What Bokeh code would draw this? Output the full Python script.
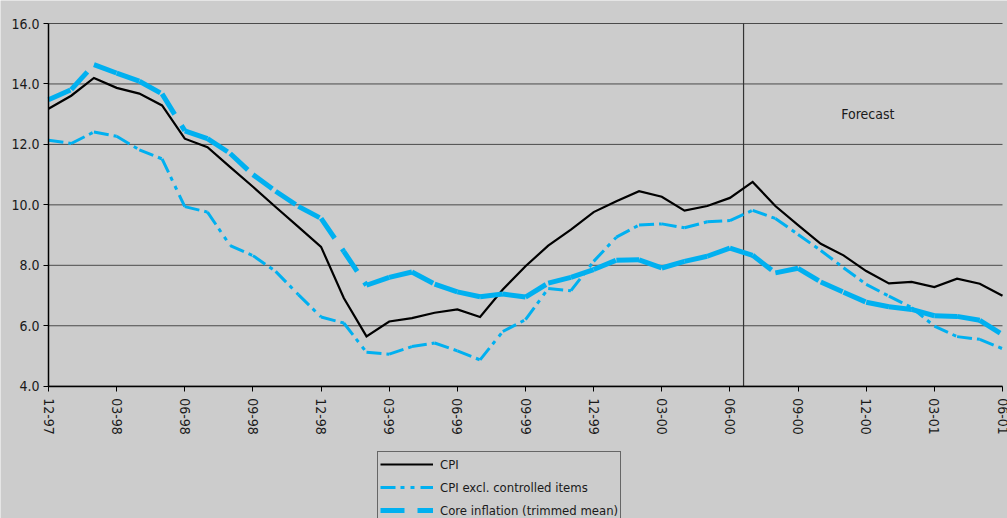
from bokeh.plotting import figure
from bokeh.models import (Range1d, FixedTicker, NumeralTickFormatter, Label,
                          Legend, LegendItem, ColumnDataSource)
from bokeh.embed import file_html
from bokeh.resources import INLINE

# Monthly observations, 12-97 .. 06-01 (percent, year-on-year)
months = list(range(43))
tick_labels = ["12-97", "03-98", "06-98", "09-98", "12-98", "03-99", "06-99", "09-99",
               "12-99", "03-00", "06-00", "09-00", "12-00", "03-01", "06-01"]
y_ticks = [4, 6, 8, 10, 12, 14, 16]

cpi = [13.18, 13.61, 14.20, 13.87, 13.68, 13.29, 12.19, 11.91, 11.25, 10.60, 9.93, 9.27,
       8.61, 6.92, 5.65, 6.14, 6.25, 6.43, 6.54, 6.29, 7.20, 7.97, 8.65, 9.18, 9.76, 10.12,
       10.45, 10.27, 9.81, 9.96, 10.23, 10.76, 9.96, 9.33, 8.71, 8.33, 7.81, 7.40, 7.45,
       7.28, 7.56, 7.39, 6.99]
cpi_excl = [12.14, 12.03, 12.41, 12.27, 11.82, 11.52, 9.94, 9.76, 8.65, 8.32, 7.80, 7.03,
            6.29, 6.09, 5.12, 5.06, 5.31, 5.43, 5.17, 4.87, 5.81, 6.20, 7.23, 7.16, 8.13,
            8.93, 9.33, 9.37, 9.24, 9.44, 9.48, 9.82, 9.55, 9.02, 8.49, 7.92, 7.37, 6.98,
            6.60, 5.99, 5.64, 5.55, 5.24]
core = [13.48, 13.81, 14.64, 14.36, 14.09, 13.67, 12.45, 12.19, 11.70, 11.00, 10.45, 9.95,
        9.55, 8.46, 7.34, 7.60, 7.78, 7.38, 7.12, 6.96, 7.05, 6.95, 7.41, 7.60, 7.86, 8.17,
        8.18, 7.91, 8.13, 8.30, 8.57, 8.33, 7.75, 7.90, 7.45, 7.11, 6.78, 6.63, 6.54, 6.33,
        6.31, 6.18, 5.71]
forecast_start = 30.6

FONT = "'DejaVu Sans Condensed', 'DejaVu Sans', sans-serif"
BG = "#CCCCCC"
BLUE = "#00B0F0"
INK = "#1a1a1a"

# Page geometry: the plotting frame fills the whole page, and both axes are pinned
# to data positions, so tick labels and the legend below the axis are never clipped.
W, H = 1007, 518
PLOT_LEFT, PLOT_RIGHT = 48, 1002      # pixel x of first / last month
PLOT_TOP, PLOT_BOTTOM = 23, 385.7     # pixel y of 16.0 / 4.0
y_lo, y_hi = y_ticks[0], y_ticks[-1]
m_lo, m_hi = months[0], months[-1]
px_per_month = (PLOT_RIGHT - PLOT_LEFT) / (m_hi - m_lo)
px_per_unit = (PLOT_BOTTOM - PLOT_TOP) / (y_hi - y_lo)
x_range = Range1d(m_lo - PLOT_LEFT / px_per_month, m_hi + (W - PLOT_RIGHT) / px_per_month)
y_range = Range1d(y_lo - (H - PLOT_BOTTOM) / px_per_unit, y_hi + PLOT_TOP / px_per_unit)

p = figure(width=W, height=H, output_backend="svg", toolbar_location=None,
           x_range=x_range, y_range=y_range,
           min_border_left=0, min_border_right=0, min_border_top=0, min_border_bottom=0)
p.background_fill_color = BG
p.border_fill_color = BG
p.outline_line_color = None
p.grid.grid_line_color = None

# horizontal gridlines spanning only the plotting band
p.segment(x0=m_lo, x1=m_hi, y0=y_ticks, y1=y_ticks, line_color="#4a4a4a", line_width=1)

p.yaxis.ticker = FixedTicker(ticks=y_ticks)
p.yaxis.formatter = NumeralTickFormatter(format="0.0")
p.yaxis.bounds = (y_lo, y_hi)
p.yaxis.fixed_location = m_lo
p.xaxis.ticker = FixedTicker(ticks=months[::3])
p.xaxis.major_label_overrides = {m: lab for m, lab in zip(months[::3], tick_labels)}
p.xaxis.major_label_orientation = "vertical"
p.xaxis.bounds = (m_lo, m_hi)
p.xaxis.fixed_location = y_lo
for ax in (p.xaxis, p.yaxis):
    ax.axis_line_color = "black"
    ax.axis_line_width = 1.5
    ax.major_tick_line_color = "black"
    ax.major_tick_in = 0
    ax.major_tick_out = 5
    ax.minor_tick_line_color = None
    ax.major_label_text_font = FONT
    ax.major_label_text_font_size = "14px"
    ax.major_label_text_color = INK
p.yaxis.major_label_standoff = 4
p.xaxis.major_label_standoff = 7


def segments(ys):
    # one two-point piece per month, so each piece starts its dash pattern afresh
    xs_seg = [[months[i], months[i + 1]] for i in range(len(months) - 1)]
    ys_seg = [[ys[i], ys[i + 1]] for i in range(len(ys) - 1)]
    return ColumnDataSource(dict(xs=xs_seg, ys=ys_seg))


# forecast divider
p.segment(x0=forecast_start, y0=y_lo, x1=forecast_start, y1=y_hi,
          line_color="#333333", line_width=1.2)

r_cpi = p.line(months, cpi, line_color="black", line_width=2.2, line_join="miter")
r_excl = p.multi_line("xs", "ys", source=segments(cpi_excl), line_color=BLUE,
                      line_width=3, line_dash="15 5 4 6 4 6")
r_core = p.multi_line("xs", "ys", source=segments(core), line_color=BLUE,
                      line_width=5, line_dash="24 13")

p.add_layout(Label(x=34.9, y=13.0, text="Forecast", text_baseline="middle",
                   text_font=FONT, text_font_size="14px", text_color=INK))

legend = Legend(items=[LegendItem(label="CPI", renderers=[r_cpi]),
                       LegendItem(label="CPI excl. controlled items", renderers=[r_excl]),
                       LegendItem(label="Core inflation (trimmed mean)", renderers=[r_core])],
                location=(377, -5), orientation="vertical",
                border_line_color="black", border_line_width=1,
                background_fill_color=BG, background_fill_alpha=1,
                glyph_width=53, glyph_height=20, label_height=20, label_standoff=7,
                padding=2, spacing=3, margin=0,
                label_text_font=FONT, label_text_font_size="13px",
                label_text_color=INK)
p.add_layout(legend)

open("out.html", "w").write(file_html(p, INLINE))
